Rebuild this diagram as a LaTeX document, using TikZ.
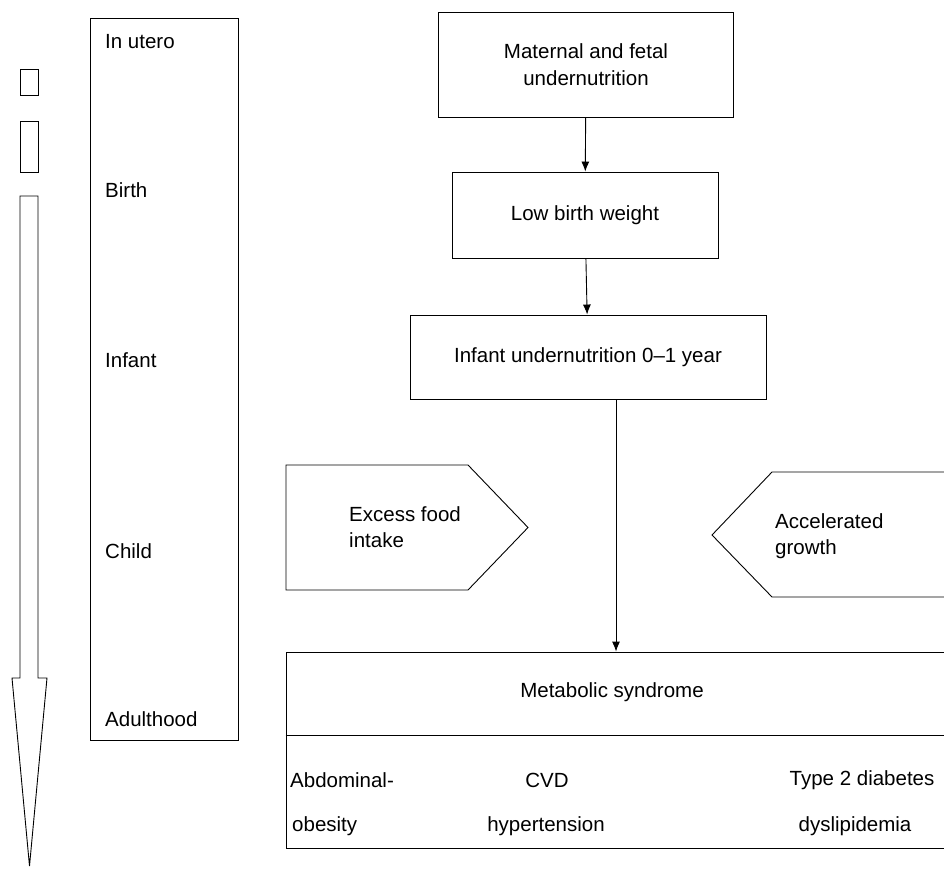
\documentclass[tikz,border=0pt]{standalone}
\usepackage{fontspec}
\setmainfont{Liberation Sans}
\usetikzlibrary{arrows.meta,positioning}

\begin{document}
\begin{tikzpicture}[
  x=1pt, y=-1pt,
  font=\fontsize{20.5}{26.5}\selectfont,
  box/.style={rectangle, draw, line width=0.9pt, inner sep=0pt},
  lbl/.style={anchor=west, inner sep=0pt, align=left},
  ctr/.style={inner sep=0pt, align=center},
  flow/.style={-{Latex[length=10pt,width=8pt]}, line width=0.9pt},
  shp/.style={draw, line width=0.9pt, line join=miter}
]
  \useasboundingbox (0,0) rectangle (944,869);

  % time line on the left
  \draw[shp] (20,69) rectangle (38,95);
  \draw[shp] (20,121) rectangle (38,172);
  \draw[shp] (20,196) -- (38,196) -- (38,678) -- (47,678) -- (29.5,866)
    -- (12,678) -- (20,678) -- cycle;

  \node[box, minimum width=148pt, minimum height=722pt] (life) at (164,379) {};
  \node[lbl] (utero) at (105,42) {In utero};
  \node[lbl] (birth) at (105,190) {Birth};
  \node[lbl] (infant) at (105,360) {Infant};
  \node[lbl] (child) at (105,551) {Child};
  \node[lbl] (adult) at (105,719) {Adulthood};

  % main chain
  \node[box, minimum width=295pt, minimum height=105pt, align=center] (mat) at (586,64.5)
    {Maternal and fetal\\undernutrition};
  \node[box, minimum width=266pt, minimum height=86pt] (lbw) at (585,215) {Low birth weight};
  \node[box, minimum width=356pt, minimum height=84pt] (inf) at (588,357) {Infant undernutrition 0--1 year};
  \node[box, minimum width=660pt, minimum height=196pt] (met) at (616,750) {};
  \node[ctr] (metlbl) at (612,692) {Metabolic syndrome};
  \draw[line width=0.9pt] (met.west |- 0,735) -- (met.east |- 0,735);

  \draw[flow] (mat) -- (lbw);
  \draw[flow] (lbw) -- (inf);
  \draw[flow] (inf.south -| met.north) -- (met.north);

  % side influences
  \draw[shp] (286,465) -- (468,465) -- (528,527.5) -- (468,590) -- (286,590) -- cycle;
  \node[lbl] (excess) at (349,527) {Excess food\\intake};
  \draw[shp] (946,472) -- (772,472) -- (712,535) -- (772,597) -- (946,597);
  \node[lbl] (accel) at (775,536) {Accelerated\\growth};

  % components
  \node[lbl] (abd) at (290,780) {Abdominal-};
  \node[lbl] (obes) at (292,826) {obesity};
  \node[ctr] (cvd) at (547,780) {CVD};
  \node[ctr] (hyp) at (546,826) {hypertension};
  \node[ctr] (t2d) at (862,780) {Type 2 diabetes};
  \node[ctr] (dys) at (855,826) {dyslipidemia};
\end{tikzpicture}
\end{document}
